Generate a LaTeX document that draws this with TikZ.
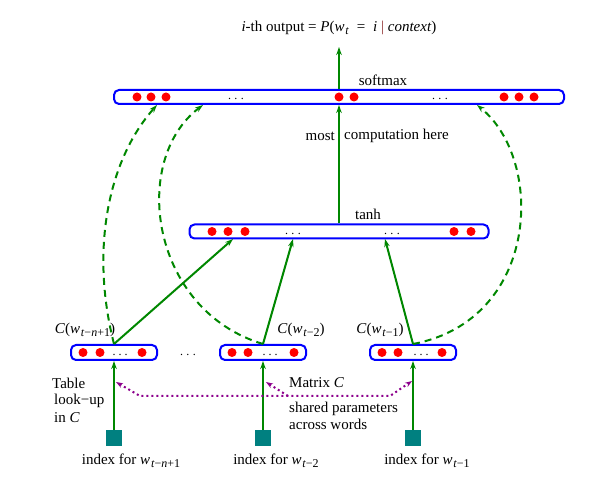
\documentclass[tikz,border=0pt]{standalone}
\usepackage{fontspec}
\setmainfont{Liberation Serif}
\usetikzlibrary{arrows.meta}
\definecolor{gr}{RGB}{0,135,0}
\definecolor{tl}{RGB}{0,128,128}
\definecolor{pu}{RGB}{140,0,140}
\definecolor{bl}{RGB}{0,0,255}
\definecolor{bar}{RGB}{140,40,40}
\newcommand{\mysub}[1]{\raisebox{-3.5pt}{\fontsize{12}{12}\selectfont #1}}
\newcommand{\w}{\textit{w}\hspace{0.8pt}}
\begin{document}
\begin{tikzpicture}[x=1pt,y=-1pt,
 barbox/.style={draw=bl,line width=2pt,rounded corners=5pt,inner sep=0pt,fill=white},
 dot/.style={circle,fill=red,inner sep=0pt,minimum size=9pt},
 ell/.style={anchor=base,font=\fontsize{12}{12}\selectfont,inner sep=0pt},
 lab/.style={font=\fontsize{15}{17}\selectfont,inner sep=0pt},
 garr/.style={draw=gr,line width=2pt,-{Stealth[length=8pt,width=5.5pt]}},
 gdash/.style={garr,dash pattern=on 7pt off 5pt},
 parr/.style={draw=pu,line width=2pt,dash pattern=on 2pt off 3pt,-{Stealth[length=7pt,width=5pt]}},
 idx/.style={fill=tl,minimum size=16pt,inner sep=0pt},
]
\useasboundingbox (0,0) rectangle (598,478);

% bars
\node[barbox,minimum width=450pt,minimum height=14pt] (top) at (339,97) {};
\node[barbox,minimum width=299pt,minimum height=14pt] (tanh) at (339,231.5) {};
\node[barbox,minimum width=86pt,minimum height=15pt] (b1) at (114,352.5) {};
\node[barbox,minimum width=86pt,minimum height=15pt] (b2) at (263,352.5) {};
\node[barbox,minimum width=86pt,minimum height=15pt] (b3) at (413,352.5) {};

% dots in top bar
\node[dot] (td1) at (137,97) {};
\node[dot] (td2) at (151,97) {};
\node[dot] (td3) at (166,97) {};
\node[ell] (te1) at (236,100) {.\hspace{3.5pt}.\hspace{3.5pt}.};
\node[dot] (td4) at (339,97) {};
\node[dot] (td5) at (354,97) {};
\node[ell] (te2) at (440,100) {.\hspace{3.5pt}.\hspace{3.5pt}.};
\node[dot] (td6) at (504,97) {};
\node[dot] (td7) at (519,97) {};
\node[dot] (td8) at (534,97) {};

% dots in tanh bar
\node[dot] (hd1) at (212,231.5) {};
\node[dot] (hd2) at (228,231.5) {};
\node[dot] (hd3) at (245,231.5) {};
\node[ell] (he1) at (293,234.5) {.\hspace{3.5pt}.\hspace{3.5pt}.};
\node[ell] (he2) at (392,234.5) {.\hspace{3.5pt}.\hspace{3.5pt}.};
\node[dot] (hd4) at (454,231.5) {};
\node[dot] (hd5) at (471,231.5) {};

% dots in small bars
\node[dot] (ad1) at (83,352.5) {};
\node[dot] (ad2) at (100,352.5) {};
\node[ell] (ae) at (120,355.5) {.\hspace{3pt}.\hspace{3pt}.};
\node[dot] (ad3) at (142,352.5) {};
\node[dot] (bd1) at (232,352.5) {};
\node[dot] (bd2) at (248,352.5) {};
\node[ell] (be) at (270,355.5) {.\hspace{3pt}.\hspace{3pt}.};
\node[dot] (bd3) at (294,352.5) {};
\node[dot] (cd1) at (382,352.5) {};
\node[dot] (cd2) at (398,352.5) {};
\node[ell] (ce) at (421,355.5) {.\hspace{3pt}.\hspace{3pt}.};
\node[dot] (cd3) at (442,352.5) {};
\node[ell] (mid) at (188,355.5) {.\hspace{3.5pt}.\hspace{3.5pt}.};

% index squares
\node[idx] (s1) at (114,438) {};
\node[idx] (s2) at (263,438) {};
\node[idx] (s3) at (413,438) {};

% labels
\node[lab] (out) at (339,28) {\textit{i}-th output = \textit{P}(\w\mysub{\textit{t}} \;=\; \textit{i} \textcolor{bar}{|} \textit{context})};
\node[lab] (soft) at (383,80) {softmax};
\node[lab] (th) at (368,214) {tanh};
\node[lab,anchor=east] (most) at (335,136) {most};
\node[lab,anchor=west] (comp) at (344,136) {computation here};
\node[lab] (c1) at (85,330) {\textit{C}(\w\mysub{\textit{t}−\textit{n}+1})};
\node[lab] (c2) at (301,330) {\textit{C}(\w\mysub{\textit{t}−2})};
\node[lab] (c3) at (380,330) {\textit{C}(\w\mysub{\textit{t}−1})};
\node[lab] (i1) at (131,461) {index for \w\mysub{\textit{t}−\textit{n}+1}};
\node[lab] (i2) at (276,461) {index for \w\mysub{\textit{t}−2}};
\node[lab] (i3) at (427,461) {index for \w\mysub{\textit{t}−1}};
\node[lab,anchor=west] (tab1) at (52,383) {Table};
\node[lab,anchor=west] (tab2) at (54,401) {look−up};
\node[lab,anchor=west] (tab3) at (54,418) {in \textit{C}};
\node[lab,anchor=west] (mat) at (289,383) {Matrix \textit{C}};
\node[lab,anchor=west] (sh1) at (289,409) {shared parameters};
\node[lab,anchor=west] (sh2) at (289,424) {across words};

% coordinates
\coordinate (o1) at (339,47);
\coordinate (t1) at (233,239);
\coordinate (t2) at (293,239);
\coordinate (t3) at (385,239);
\coordinate (u1) at (157,105);
\coordinate (u2) at (203,105);
\coordinate (u3) at (477,105);
\coordinate (p1) at (116,382);
\coordinate (p2) at (266,382);
\coordinate (p3) at (412,381);
\coordinate (q1) at (140,396);
\coordinate (q2) at (390,396);
\coordinate (q3) at (288,396);

% connectors
\draw[garr] (top.north) -- (o1);
\draw[garr] (tanh.north) -- (top.south);
\draw[garr] (b1.north) -- (t1);
\draw[garr] (b2.north) -- (t2);
\draw[garr] (b3.north) -- (t3);
\draw[garr] (s1.north) -- (b1.south);
\draw[garr] (s2.north) -- (b2.south);
\draw[garr] (s3.north) -- (b3.south);
\draw[gdash] (b1.north) .. controls (90,250) and (108,160) .. (u1);
\draw[gdash] (b2.north) .. controls (150,310) and (130,160) .. (u2);
\draw[gdash] (b3.north) .. controls (540,320) and (545,160) .. (u3);
\draw[parr,{Stealth[length=7pt,width=5pt]}-{Stealth[length=7pt,width=5pt]}] (p1) -- (q1) -- (q2) -- (p3);
\draw[parr] (q3) -- (p2);
\end{tikzpicture}
\end{document}
